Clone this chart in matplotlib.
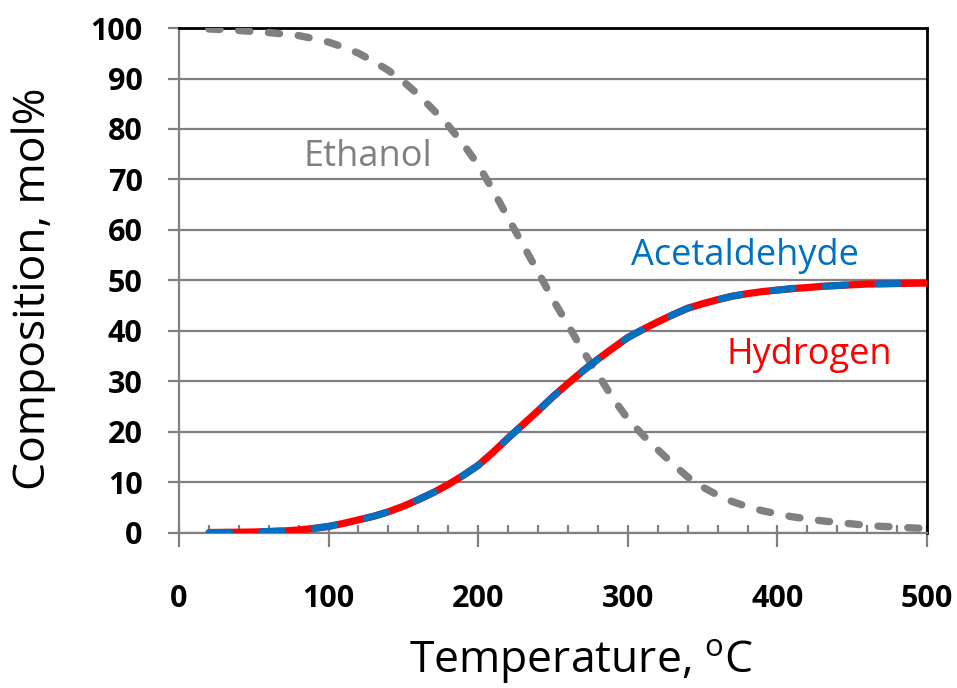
import matplotlib
matplotlib.use("Agg")
import matplotlib.pyplot as plt
from matplotlib.ticker import MultipleLocator

plt.rcParams['font.family'] = ['Open Sans', 'DejaVu Sans']
plt.rcParams['lines.scale_dashes'] = False

# Equilibrium composition of ethanol dehydrogenation vs temperature
temperature = [20, 30, 40, 50, 60, 70, 80, 90, 100, 110, 120, 130, 140, 150,
               160, 170, 180, 190, 200, 210, 220, 230, 240, 250, 260, 270,
               280, 290, 300, 310, 320, 330, 340, 350, 360, 370, 380, 390,
               400, 410, 420, 430, 440, 450, 460, 470, 480, 490, 500]
ethanol = [99.8, 99.7, 99.5, 99.3, 99.1, 98.8, 98.5, 97.9, 97.2, 96.2, 95.0,
           93.4, 91.6, 89.4, 86.8, 83.8, 80.7, 77.0, 72.9, 67.8, 62.4, 57.0,
           51.7, 46.2, 41.2, 36.1, 31.4, 26.7, 22.6, 19.4, 16.5, 13.7, 11.1,
           9.1, 7.5, 6.2, 5.2, 4.4, 3.8, 3.2, 2.8, 2.4, 2.1, 1.8, 1.5, 1.3,
           1.2, 1.0, 0.9]
acetaldehyde = [0.1, 0.12, 0.15, 0.2, 0.3, 0.4, 0.6, 0.9, 1.3, 1.9, 2.6, 3.3,
                4.2, 5.3, 6.6, 8.0, 9.6, 11.4, 13.4, 16.0, 18.8, 21.5, 24.2,
                27.0, 29.6, 32.1, 34.4, 36.6, 38.7, 40.3, 41.8, 43.2, 44.5,
                45.4, 46.2, 46.9, 47.4, 47.8, 48.1, 48.4, 48.6, 48.85, 49.0,
                49.15, 49.3, 49.35, 49.4, 49.45, 49.5]
hydrogen = acetaldehyde[:]

x_ticks = [0, 100, 200, 300, 400, 500]
y_ticks = [0, 10, 20, 30, 40, 50, 60, 70, 80, 90, 100]

GRAY = '#808080'
RED = '#FF0000'
BLUE = '#0070C0'

fig = plt.figure(figsize=(9.57, 6.88), dpi=100)
ax = fig.add_axes([0.187, 0.2253, 0.7817, 0.734])

ax.set_xlim(0, 500)
ax.set_ylim(0, 100)

# horizontal gridlines
ax.set_yticks(y_ticks)
ax.set_xticks(x_ticks)
ax.grid(axis='y', color=GRAY, linewidth=1.6)
ax.set_axisbelow(True)

ax.plot(temperature, ethanol, color=GRAY, linewidth=5.3,
        dashes=(8, 13.5), dash_capstyle='round', zorder=3)
ax.plot(temperature, hydrogen, color=RED, linewidth=5.2,
        solid_capstyle='butt', zorder=3)
ax.plot(temperature, acetaldehyde, color=BLUE, linewidth=5.0,
        dashes=(15, 23), dash_capstyle='round', zorder=4)

ax.text(126, 74.5, 'Ethanol', color=GRAY, fontsize=26, ha='center', va='center')
ax.text(378, 54.8, 'Acetaldehyde', color=BLUE, fontsize=26, ha='center', va='center')
ax.text(421, 35.3, 'Hydrogen', color=RED, fontsize=26, ha='center', va='center')

for side in ('left', 'bottom'):
    ax.spines[side].set_color(GRAY)
    ax.spines[side].set_linewidth(1.6)
for side in ('top', 'right'):
    ax.spines[side].set_color('black')
    ax.spines[side].set_linewidth(2.0)

ax.xaxis.set_minor_locator(MultipleLocator(20))
ax.xaxis.remove_overlapping_locs = False
ax.tick_params(axis='x', which='major', direction='out', length=10, width=1.6,
               color=GRAY, pad=27, labelsize=22)
ax.tick_params(axis='x', which='minor', direction='in', length=6, width=1.6,
               color=GRAY)
ax.tick_params(axis='y', which='major', direction='out', length=8, width=1.6,
               color=GRAY, pad=18, labelsize=22)
for lbl in ax.get_xticklabels() + ax.get_yticklabels():
    lbl.set_fontweight('bold')

fig.text(0.035, 0.58, 'Composition, mol%', rotation=90, fontsize=32,
         ha='center', va='center')
fig.text(0.607, 0.038, r'Temperature, $^{\mathregular{o}}$C', fontsize=32,
         ha='center', va='center')

fig.savefig('out.png', dpi=100)
